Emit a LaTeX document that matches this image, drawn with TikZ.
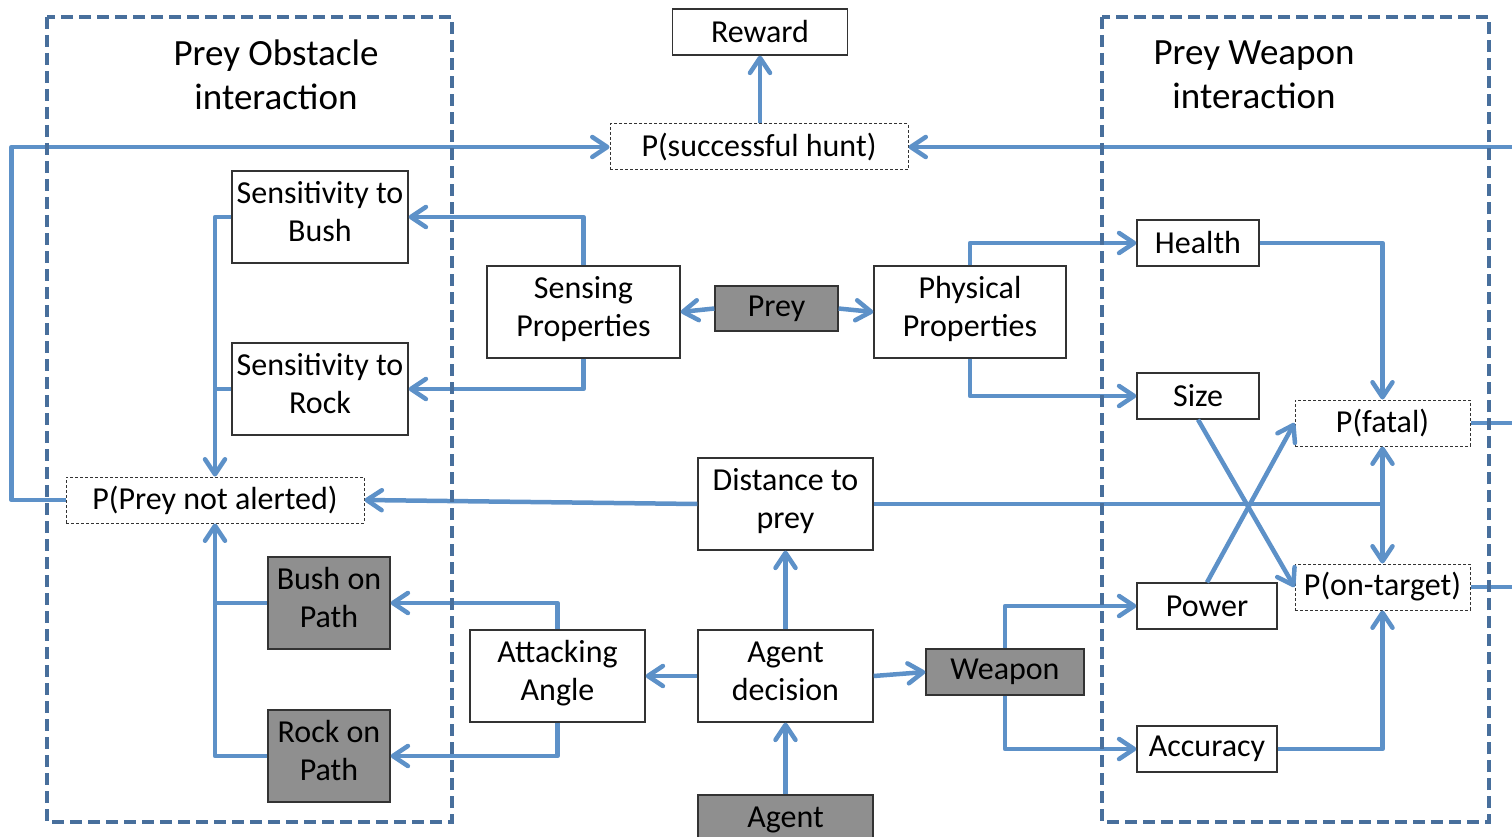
\documentclass[tikz,border=0pt]{standalone}
\usepackage{fontspec}
\setmainfont{Carlito}
\usetikzlibrary{arrows.meta}
\definecolor{conn}{RGB}{93,145,200}
\definecolor{frame}{RGB}{72,111,156}
\definecolor{darkfill}{RGB}{143,143,143}
\newcommand\twolines[2]{\rule{0pt}{24pt}#1\\#2\rule[-14pt]{0pt}{14pt}}
\tikzset{
  box/.style={draw=black!80, line width=1.3pt, fill=white, inner sep=0pt, align=center, font=\fontsize{32}{38}\selectfont},
  gbox/.style={box, fill=darkfill},
  pbox/.style={draw=black!80, line width=1pt, dash pattern=on 3pt off 2pt, fill=white, inner sep=0pt, align=center, font=\fontsize{32}{38}\selectfont},
  link/.style={draw=conn, line width=4.5pt, line join=round},
  arr/.style={link, -{Straight Barb[length=15pt,width=20pt,round]}},
  region/.style={draw=frame, line width=4pt, dash pattern=on 12pt off 6pt},
  title/.style={align=center, font=\fontsize{37}{44}\selectfont}
}
\begin{document}
\begin{tikzpicture}[x=1pt,y=-1pt]
\useasboundingbox (0,0) rectangle (1512,837);
% nodes
\node[box, minimum width=175pt, minimum height=46pt] (reward) at (760,32) {Reward};
\node[pbox, minimum width=298pt, minimum height=46pt] (psh) at (759,147) {P(successful hunt)};
\node[box, minimum width=176pt, minimum height=92pt] (sbush) at (320,217) {\twolines{Sensitivity to}{Bush}};
\node[box, minimum width=176pt, minimum height=92pt] (srock) at (320,389) {\twolines{Sensitivity to}{Rock}};
\node[box, minimum width=193pt, minimum height=92pt] (sens) at (583.5,312) {\twolines{Sensing}{Properties}};
\node[gbox, minimum width=123pt, minimum height=45pt] (prey) at (776.5,308.5) {Prey};
\node[box, minimum width=192pt, minimum height=92pt] (phys) at (970,312) {\twolines{Physical}{Properties}};
\node[box, minimum width=122pt, minimum height=46pt] (health) at (1198,243) {Health};
\node[box, minimum width=122pt, minimum height=46pt] (size) at (1198,396) {Size};
\node[pbox, minimum width=175pt, minimum height=46pt] (pfatal) at (1382.5,423) {P(fatal)};
\node[pbox, minimum width=298pt, minimum height=46pt] (pna) at (215,500) {P(Prey not alerted)};
\node[box, minimum width=175pt, minimum height=92pt] (dist) at (785.5,504) {\twolines{Distance to}{prey}};
\node[gbox, minimum width=122pt, minimum height=92pt] (bush) at (329,603) {\twolines{Bush on}{Path}};
\node[gbox, minimum width=122pt, minimum height=92pt] (rock) at (329,756) {\twolines{Rock on}{Path}};
\node[box, minimum width=175pt, minimum height=92pt] (att) at (557.5,676) {\twolines{Attacking}{Angle}};
\node[box, minimum width=175pt, minimum height=92pt] (ad) at (785.5,676) {\twolines{Agent}{decision}};
\node[gbox, minimum width=158pt, minimum height=46pt] (weapon) at (1005,672) {Weapon};
\node[box, minimum width=140pt, minimum height=46pt] (power) at (1207,606) {Power};
\node[pbox, minimum width=175pt, minimum height=46pt] (pon) at (1382.5,587) {P(on-target)};
\node[box, minimum width=140pt, minimum height=46pt] (acc) at (1207,749) {Accuracy};
\node[gbox, minimum width=175pt, minimum height=44pt, text depth=0pt] (agent) at (785.5,817) {Agent};
% free ends at the right edge
\coordinate (etop) at (1512,147);
\coordinate (efatal) at (1512,423);
\coordinate (eon) at (1512,587);
\coordinate (j) at (pfatal.south |- dist.east);
% connectors
\draw[arr] (psh.north -| reward.south) -- (reward.south);
\draw[arr] (pna.west) -- ++(-54,0) |- (psh.west);
\draw[arr] (etop) -- (psh.east);
\draw[link] (pfatal.east) -- (efatal);
\draw[link] (pon.east) -- (eon);
\draw[arr] (sens.north) |- (sbush.east);
\draw[arr] (sens.south) |- (srock.east);
\draw[arr] (prey.west) -- (sens.east);
\draw[arr] (prey.east) -- (phys.west);
\draw[arr] (phys.north) |- (health.west);
\draw[arr] (phys.south) |- (size.west);
\draw[arr] (health.east) -| (pfatal.north);
\draw[arr] (size.south) -- (pon.west);
\draw[arr] (power.north) -- (pfatal.west);
\draw[arr] (dist.west) -- (pna.east);
\draw[link] (dist.east) -- (j);
\draw[arr] (j) -- (pfatal.south);
\draw[arr] (j) -- (pon.north);
\draw[arr] (sbush.west) -| (pna.north);
\draw[link] (srock.west) -- (srock.west -| pna.north);
\draw[link] (bush.west) -- (bush.west -| pna.south);
\draw[arr] (rock.west) -| (pna.south);
\draw[arr] (att.north) |- (bush.east);
\draw[arr] (att.south) |- (rock.east);
\draw[arr] (ad.west) -- (att.east);
\draw[arr] (ad.north) -- (dist.south);
\draw[arr] (agent.north) -- (ad.south);
\draw[arr] (ad.east) -- (weapon.west);
\draw[arr] (weapon.north) |- (power.west);
\draw[arr] (weapon.south) |- (acc.west);
\draw[arr] (acc.east) -| (pon.south);
% regions
\draw[region] (47,17) rectangle (452,822);
\draw[region] (1102,17) rectangle (1489,822);
\node[title] (t1) at (276,75) {Prey Obstacle\\interaction};
\node[title] (t2) at (1254,75) {Prey Weapon\\interaction};
\end{tikzpicture}
\end{document}
